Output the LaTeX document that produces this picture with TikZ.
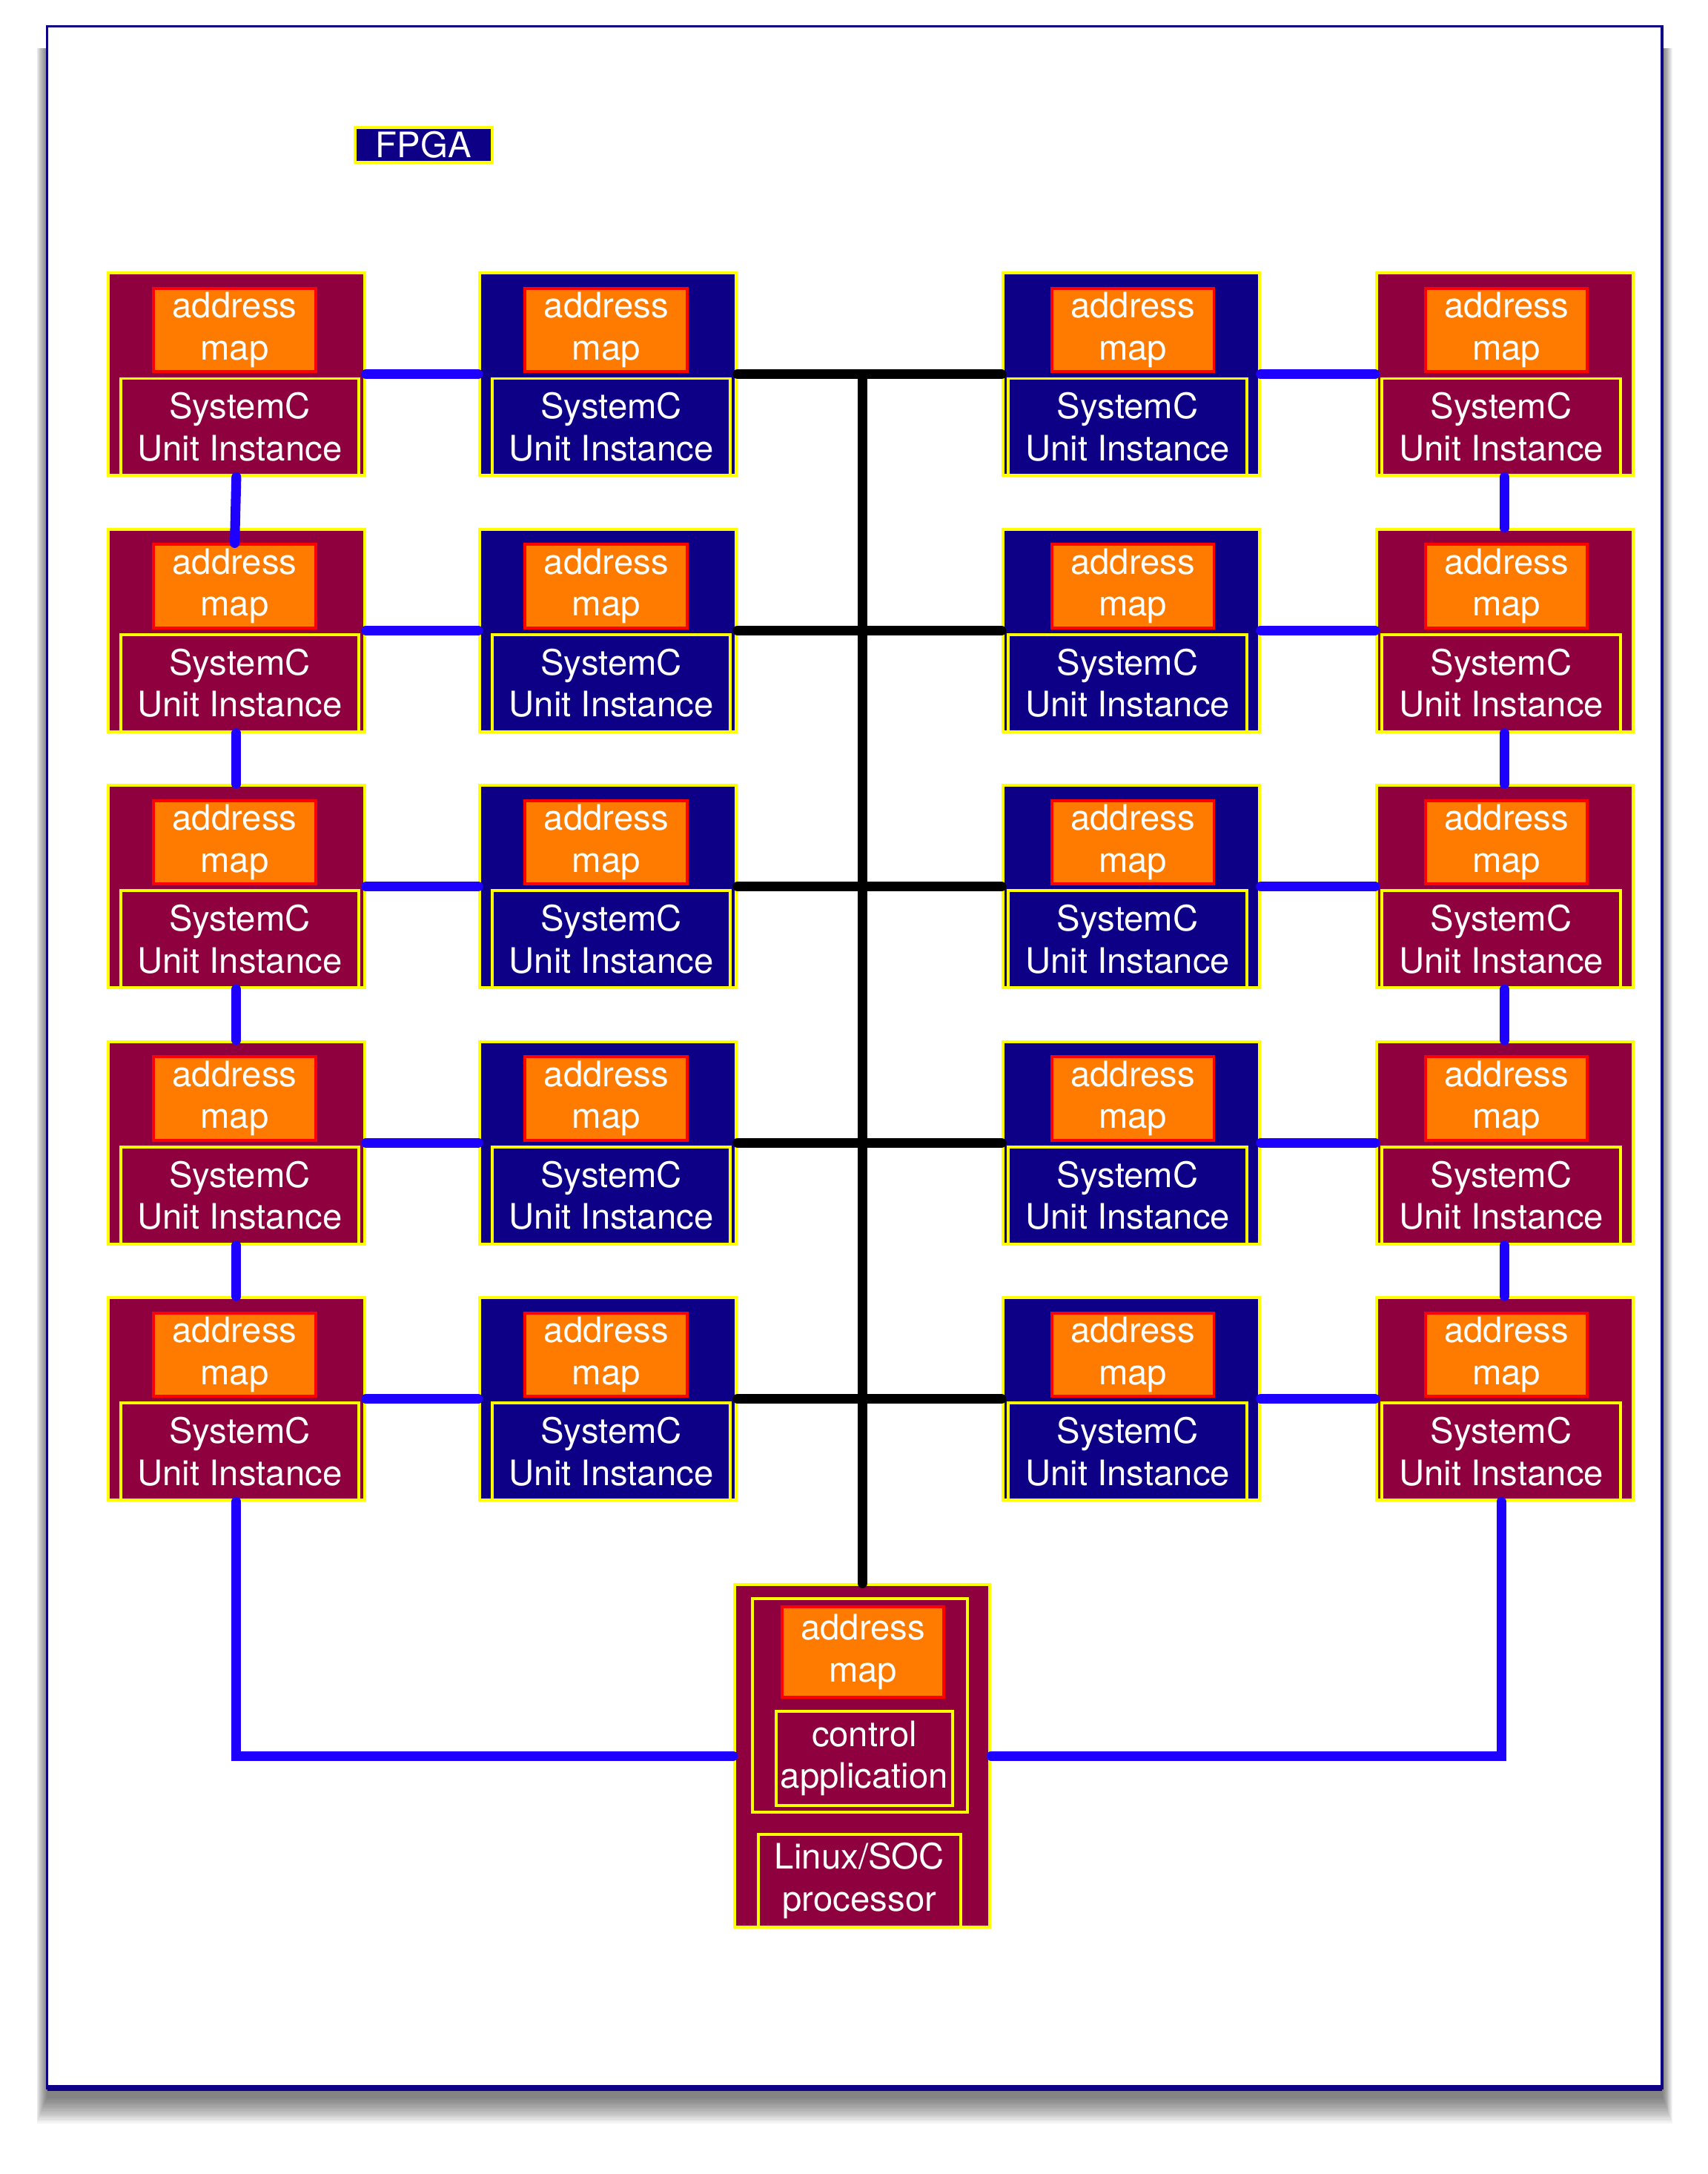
\documentclass[tikz,border=0pt]{standalone}
\usepackage{fontspec}
\setmainfont{TeX Gyre Heros}
\usepackage{tikz}
\usetikzlibrary{positioning}
\definecolor{scMaroon}{RGB}{142,0,62}
\definecolor{scNavy}{RGB}{14,0,134}
\definecolor{scOrange}{RGB}{255,123,0}
\definecolor{scYellow}{RGB}{255,255,0}
\definecolor{scRed}{RGB}{255,0,0}
\definecolor{scBlue}{RGB}{30,0,255}
\tikzstyle{unitbox} = [rectangle, draw=scYellow, line width=0.6pt,
    minimum width=1.85cm, minimum height=1.46cm, inner sep=0pt]
\tikzstyle{mapbox} = [rectangle, draw=scRed, fill=scOrange, line width=0.6pt,
    minimum width=1.17cm, minimum height=0.60cm, inner sep=0pt, align=center]
\tikzstyle{instbox} = [rectangle, draw=scYellow, line width=0.6pt,
    minimum width=1.72cm, minimum height=0.70cm, inner sep=0pt, align=center]
\tikzstyle{bluelink} = [draw, line width=2pt, color=scBlue, line cap=round]
\tikzstyle{blackbus} = [draw, line width=2pt, color=black, line cap=round]

\begin{document}
\begin{tikzpicture}[font=\fontsize{7.2}{8.6}\selectfont, text=white]
    \useasboundingbox (0,0) rectangle (12.32,-15.68);
    % Board with its shadow
    \foreach \i in {1,...,15}
      \fill [black, opacity=0.045] (0.34-0.005*\i,-0.35) rectangle (11.99+0.005*\i,-15.12-0.013*\i);
    \draw [scNavy, fill=white, line width=0.5pt] (0.34,-0.19) rectangle (11.99,-15.06);
    \draw [scNavy, line width=1.2pt] (0.34,-15.06) -- (11.99,-15.06);
    \node [rectangle, draw=scYellow, fill=scNavy, line width=0.6pt, inner sep=0pt,
      minimum width=0.99cm, minimum height=0.25cm] (fpgaLabel) at (3.055,-1.045) {FPGA};

    % Place nodes
    \foreach \colnum/\xpos/\fillc/\side in {1/1.705/scMaroon/1, 2/4.385/scNavy/1, 3/8.16/scNavy/-1, 4/10.855/scMaroon/-1}
      \foreach \rownum in {1,...,5} {
        \node [unitbox, fill=\fillc] (unit\colnum\rownum) at (\xpos,{-2.70-1.8475*(\rownum-1)}) {};
        \node [mapbox, below=0.11cm of unit\colnum\rownum.north, xshift=-0.012cm*\side] (addrMap\colnum\rownum) {address\\map};
        \node [instbox, above=0pt of unit\colnum\rownum.south, xshift=0.025cm*\side] (systemC\colnum\rownum) {SystemC\\Unit Instance};
      }
    \node [rectangle, draw=scYellow, fill=scMaroon, line width=0.6pt, inner sep=0pt,
      minimum width=1.84cm, minimum height=2.47cm] (processor) at (6.22,-12.665) {};
    \node [rectangle, draw=scYellow, line width=0.6pt, inner sep=0pt,
      minimum width=1.55cm, minimum height=1.54cm, below=0.10cm of processor.north, xshift=-0.015cm] (procGroup) {};
    \node [mapbox, minimum height=0.65cm, below=0.06cm of procGroup.north, xshift=0.02cm] (procMap) {address\\map};
    \node [instbox, minimum width=1.27cm, minimum height=0.68cm, below=0.08cm of procMap.south, xshift=0.01cm] (controlApp) {control\\application};
    \node [instbox, minimum width=1.46cm, minimum height=0.67cm, above=0pt of processor.south, xshift=-0.02cm] (linuxSoc) {Linux/SOC\\processor};

    % Draw edges
    \foreach \rownum in {1,...,5} {
      \path [bluelink] (unit1\rownum) -- (unit2\rownum);
      \path [blackbus] (unit2\rownum) -- (unit3\rownum);
      \path [bluelink] (unit3\rownum) -- (unit4\rownum);
    }
    \path [bluelink] (unit11.south) -- (addrMap12.north);
    \foreach \rownum/\nextrow in {2/3, 3/4, 4/5}
      \path [bluelink] (unit1\rownum) -- (unit1\nextrow);
    \foreach \rownum/\nextrow in {1/2, 2/3, 3/4, 4/5}
      \path [bluelink] (unit4\rownum) -- (unit4\nextrow);
    \path [blackbus] (processor) -- (processor |- unit21);
    \path [bluelink] (unit15) |- (processor);
    \path [bluelink] (systemC45) |- (processor);
\end{tikzpicture}
\end{document}
